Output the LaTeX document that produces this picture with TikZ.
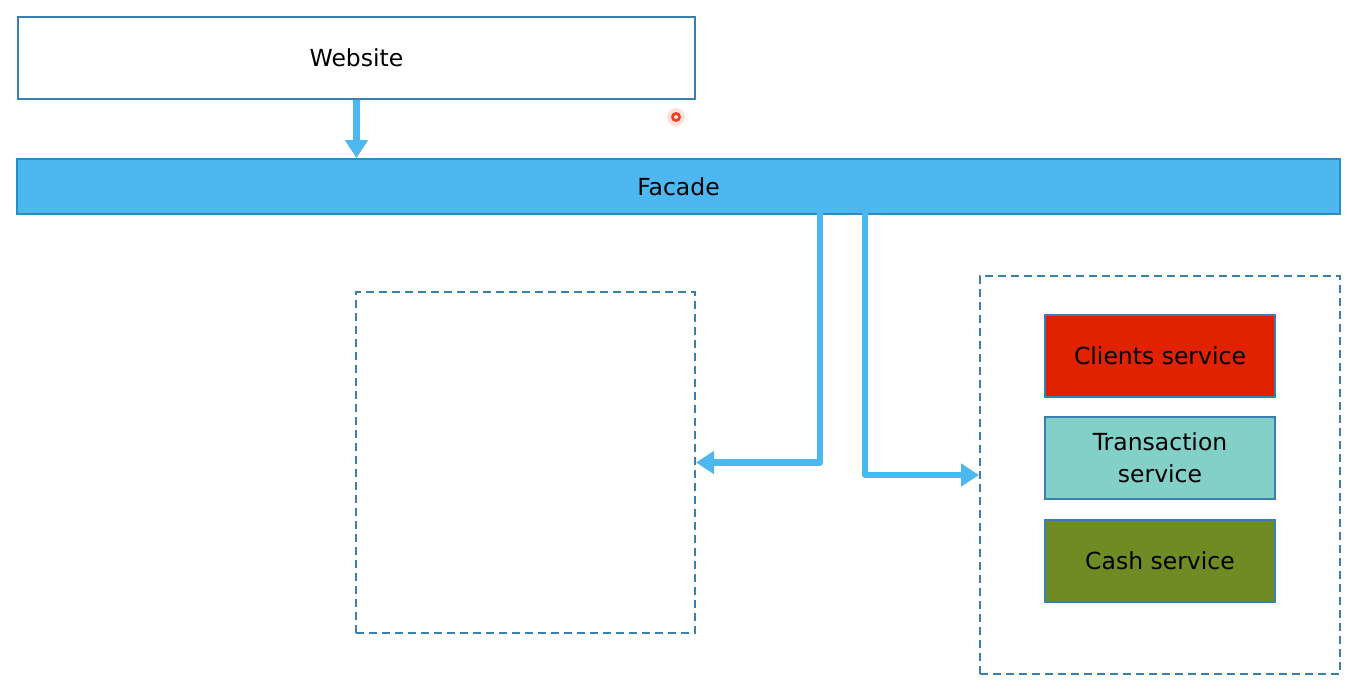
\documentclass[tikz,border=0pt]{standalone}
\usepackage{fontspec}
\setmainfont{DejaVu Sans}
\usetikzlibrary{arrows.meta}
\definecolor{arrowblue}{RGB}{77,184,240}
\definecolor{edgeblue}{RGB}{58,128,175}
\definecolor{facadeedge}{RGB}{40,140,200}
\definecolor{clientred}{RGB}{224,34,0}
\definecolor{transteal}{RGB}{130,208,200}
\definecolor{cashgreen}{RGB}{110,140,35}
\definecolor{dotred}{RGB}{250,60,30}
\tikzset{
  box/.style={draw=edgeblue, line width=1.8pt, minimum width=#1, inner sep=0pt, font=\fontsize{23.5}{32}\selectfont, align=center},
  svc/.style={draw=edgeblue, line width=2pt, minimum width=230pt, minimum height=82pt, inner sep=0pt, font=\fontsize{23.5}{32}\selectfont, align=center},
  group/.style={draw=edgeblue, line width=2pt, dash pattern=on 8pt off 5pt},
  flow/.style={draw=arrowblue, line width=6.5pt, line join=round, -{Triangle[width=22pt,length=18pt]}, arrowblue}
}
\begin{document}
\begin{tikzpicture}[x=1pt,y=-1pt]
\useasboundingbox (0,0) rectangle (1351,696);
\fill[white] (0,0) rectangle (1351,696);
% Website
\node[box=677pt, minimum height=82pt, fill=white] (website) at (356.5,58) {Website};
% Facade
\node[box=1323pt, minimum height=55pt, fill=arrowblue, draw=facadeedge] (facade) at (678.5,186.5) {Facade};
% dashed groups
\node[group, minimum width=339pt, minimum height=341pt, inner sep=0pt] (leftgrp) at (525.5,462.5) {};
\node[group, minimum width=360pt, minimum height=398pt, inner sep=0pt] (rightgrp) at (1160,475) {};
% services
\node[svc, fill=clientred] (clients) at (1160,356) {Clients service};
\node[svc, fill=transteal] (trans) at (1160,458) {Transaction\\service};
\node[svc, fill=cashgreen] (cash) at (1160,561) {Cash service};
% connectors
\coordinate (f1) at ([xshift=141.5pt,yshift=2pt]facade.south);
\coordinate (f2) at ([xshift=186.5pt,yshift=2pt]facade.south);
\draw[flow] (website.south) -- (website.south |- facade.north);
\draw[flow] (f1) |- (leftgrp.east);
\draw[flow] (f2) |- (rightgrp.west);
% pointer dot
\fill[dotred, opacity=0.15] (676,117) circle (9);
\fill[dotred] (676,117) circle (5);
\fill[white!85!dotred] (676,117) circle (2);
\end{tikzpicture}
\end{document}
